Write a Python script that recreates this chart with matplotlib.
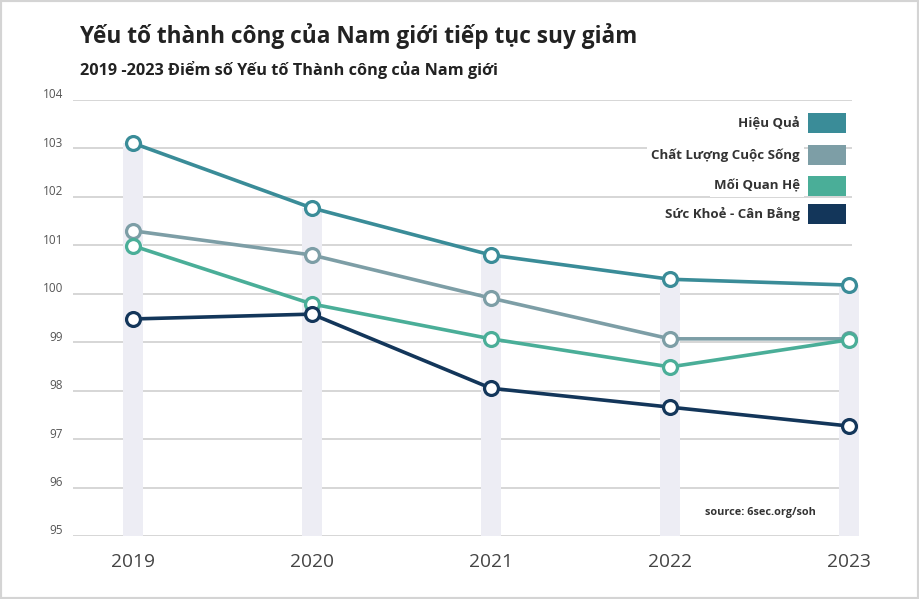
import matplotlib.pyplot as plt
import matplotlib.transforms as mtransforms
from matplotlib.patches import Rectangle
import numpy as np

plt.rcParams["font.family"] = ["Open Sans", "DejaVu Sans"]

YEARS = [2019, 2020, 2021, 2022, 2023]
SERIES = ["Hiệu Quả", "Chất Lượng Cuộc Sống", "Mối Quan Hệ", "Sức Khoẻ - Cân Bằng"]
HIEU_QUA = [103.11, 101.77, 100.80, 100.30, 100.18]
CHAT_LUONG = [101.30, 100.80, 99.91, 99.07, 99.07]
MOI_QUAN_HE = [100.99, 99.79, 99.07, 98.49, 99.05]
SUC_KHOE = [99.48, 99.58, 98.05, 97.66, 97.27]
Y_TICKS = [95, 96, 97, 98, 99, 100, 101, 102, 103, 104]

COLORS = ["#3a8c98", "#7d9ea6", "#4aae98", "#13365a"]
values = [HIEU_QUA, CHAT_LUONG, MOI_QUAN_HE, SUC_KHOE]

fig = plt.figure(figsize=(9.19, 5.99), dpi=100)
fig.patch.set_facecolor("white")
# thin grey frame of the screenshot
fig.patches.append(Rectangle((0, 0), 1, 1, transform=fig.transFigure,
                             fill=False, edgecolor="#d4d4d4", linewidth=3))

ax = fig.add_axes([73 / 919, 1 - 536 / 599, (852 - 73) / 919, (536 - 100) / 599])
ax.set_xlim(2018.665, 2023.017)
ax.set_ylim(95, 104)
ax.set_axisbelow(True)

# highlight columns up to the top value of each year
tops = np.max(np.array(values), axis=0)
ax.bar(YEARS, tops - 95, bottom=95, width=0.112, color="#ededf4",
       zorder=1, clip_on=False)

for vals, col in zip(values, COLORS):
    ax.plot(YEARS, vals, color=col, linewidth=2.6, marker="o", markersize=10,
            markerfacecolor="white", markeredgecolor=col, markeredgewidth=2.3,
            zorder=3, clip_on=False)

ax.set_yticks(Y_TICKS)
ax.set_yticklabels([])
ax.set_xticks(YEARS)
ax.grid(axis="y", color="#d0d0d0", linewidth=1.2)
for s in ax.spines.values():
    s.set_visible(False)
ax.tick_params(axis="both", length=0)
ax.tick_params(axis="x", labelsize=13.8, labelcolor="#444444", pad=12)

# y labels sit a little above their grid lines
ylab_tr = mtransforms.blended_transform_factory(ax.transAxes, ax.transData) + \
    mtransforms.ScaledTranslation(0, 5 / 100, fig.dpi_scale_trans)
for t in Y_TICKS:
    ax.text(-10 / 779, t, str(t), transform=ylab_tr, ha="right", va="center",
            fontsize=8.5, color="#555555")

# legend
row_y = [123, 155, 186, 214]
for name, col, py in zip(SERIES, COLORS, row_y):
    fy = 1 - py / 599
    fig.text(800 / 919, fy, name, ha="right", va="center", fontsize=9.5,
             fontweight="bold", color="#333333",
             bbox=dict(facecolor="white", edgecolor="none", pad=3), zorder=5)
    fig.patches.append(Rectangle((808 / 919, fy - 10 / 599), 38 / 919, 20 / 599,
                                 transform=fig.transFigure, facecolor=col,
                                 edgecolor="none", zorder=5))

fig.text(80 / 919, 1 - 36 / 599, "Yếu tố thành công của Nam giới tiếp tục suy giảm",
         fontsize=16.3, fontweight="bold", color="#222222", va="center")
fig.text(80 / 919, 1 - 70 / 599, "2019 -2023 Điểm số Yếu tố Thành công của Nam giới",
         fontsize=11.7, fontweight="bold", color="#222222", va="center")
fig.text(760 / 919, 1 - 513 / 599, "source: 6sec.org/soh", fontsize=7.8,
         fontweight="bold", color="#333333", ha="center", va="center")

fig.savefig("out.png", dpi=100)
